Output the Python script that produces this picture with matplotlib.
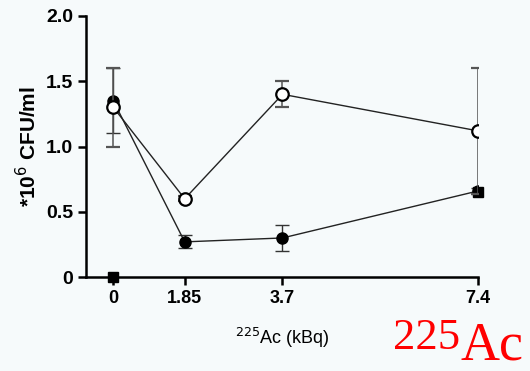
import matplotlib
matplotlib.use("Agg")
import matplotlib.pyplot as plt
import numpy as np

plt.rcParams['font.family'] = ['Liberation Sans', 'DejaVu Sans']

dose = np.array([0, 1.85, 3.7, 7.4])
dose_labels = ['0', '1.85', '3.7', '7.4']
# Prism-style gap: the 0 dose is drawn a little off the y axis
x_pos = np.where(dose == 0, 0.5, dose)

open_mean = [1.30, 0.60, 1.40, 1.12]
open_err = [0.30, 0.02, 0.10, 0.48]
filled_mean = [1.35, 0.27, 0.30, 0.66]
filled_err = [0.25, 0.05, 0.10, 0.02]
square_dose_idx = [0, 3]
square_vals = [0.0, 0.65]

fig = plt.figure(figsize=(5.3, 3.71), dpi=100, facecolor='#f6fafb')
ax = fig.add_axes([0.162, 0.253, 0.740, 0.704])
ax.set_facecolor('#f6fafb')

ax.plot(x_pos[square_dose_idx], square_vals, 's', color='black', markersize=7,
        linestyle='none', zorder=2, clip_on=False)
ax.errorbar(x_pos, filled_mean, yerr=filled_err, color='#222222', lw=1.0,
            marker='o', markersize=8, markerfacecolor='black', markeredgecolor='black',
            ecolor='#333333', elinewidth=1.0, capsize=5, capthick=1.0, zorder=3)
ax.errorbar(x_pos, open_mean, yerr=open_err, color='#222222', lw=1.0,
            marker='o', markersize=9, markerfacecolor='white', markeredgecolor='black',
            markeredgewidth=1.6, ecolor='#555555', elinewidth=1.1, capsize=5,
            capthick=1.1, zorder=4)

ax.set_xlim(-0.02, 7.4)
ax.set_ylim(0, 2.0)
ax.set_xticks(x_pos)
ax.set_xticklabels(dose_labels, fontweight='bold', fontsize=13)
ax.set_yticks([0, 0.5, 1.0, 1.5, 2.0])
ax.set_yticklabels(['0', '0.5', '1.0', '1.5', '2.0'], fontweight='bold', fontsize=14)

for side in ['top', 'right']:
    ax.spines[side].set_visible(False)
for side in ['left', 'bottom']:
    ax.spines[side].set_linewidth(1.8)
ax.tick_params(axis='both', direction='out', width=1.8, length=6, pad=3)

ax.set_xlabel('$^{225}$Ac (kBq)', fontsize=13, labelpad=14)
ax.set_ylabel('*10$^{6}$ CFU/ml', fontsize=15, fontweight='bold', labelpad=4)

fig.text(0.742, 0.06, '225', color='red', fontsize=32, family='Liberation Serif')
fig.text(0.868, 0.0, 'Ac', color='red', fontsize=39, family='Liberation Serif',
         va='bottom')

fig.savefig('out.png', dpi=100, facecolor=fig.get_facecolor())
